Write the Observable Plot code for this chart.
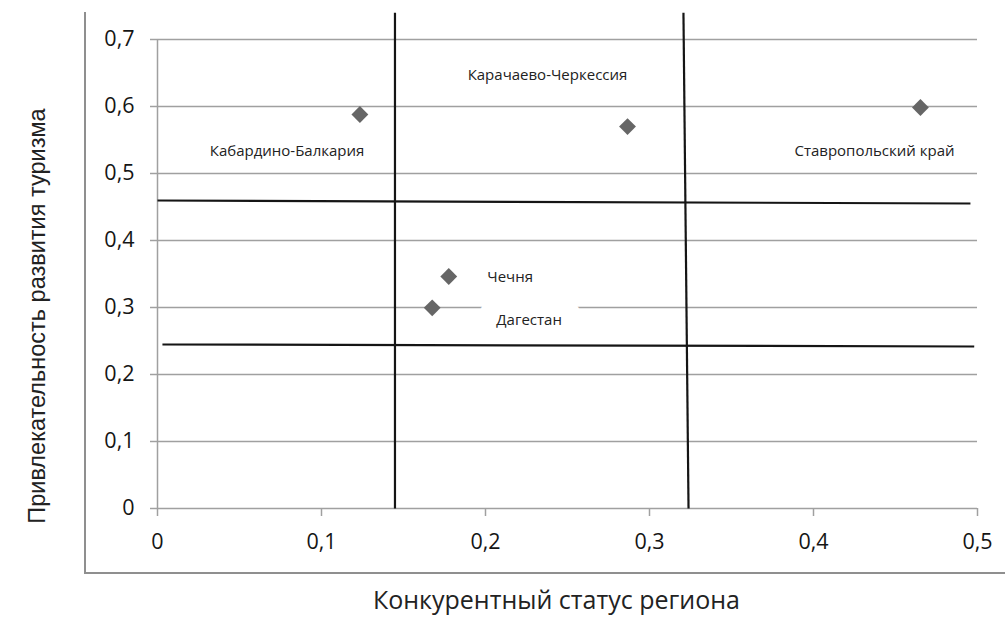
<!DOCTYPE html>
<html>
<head>
<meta charset="utf-8">
<script src="https://cdn.jsdelivr.net/npm/d3@7"></script>
<script src="https://cdn.jsdelivr.net/npm/@observablehq/plot@0.6"></script>
<style>
  html, body { margin: 0; padding: 0; background: #fff; }
  #wrap { position: relative; width: 1005px; height: 624px; overflow: hidden; }
  #border { position: absolute; left: 84px; top: 12px; width: 940px; height: 560px;
            border-left: 2px solid #8f8f8f; border-bottom: 2px solid #8f8f8f; }
  #chart { position: absolute; left: 0; top: 0; }
</style>
</head>
<body>
<div id="wrap"><div id="border"></div><div id="chart"></div></div>
<script>
// Data
const regions = ["Кабардино-Балкария", "Карачаево-Черкессия", "Ставропольский край", "Чечня", "Дагестан"];
const competitiveStatus = [0.1234, 0.2866, 0.4652, 0.1776, 0.1675];
const tourismAttractiveness = [0.588, 0.570, 0.5985, 0.3463, 0.2995];
const labelX = [0.079, 0.2378, 0.4372, 0.215, 0.2266];
const labelY = [0.534, 0.6463, 0.534, 0.345, 0.2806];

const xTicks = [0, 0.1, 0.2, 0.3, 0.4, 0.5];
const yTicks = [0, 0.1, 0.2, 0.3, 0.4, 0.5, 0.6, 0.7];

const xTitle = "Конкурентный статус региона";
const yTitle = "Привлекательность развития туризма";

// Quadrant divider lines (drawn by hand in the original, slightly tilted)
const dividerX1 = [0.1448, 0.3238];
const dividerX2 = [0.1448, 0.3207];
const dividerTop = 0.740;
const hDividerX1 = [0, 0.003];
const hDividerX2 = [0.4957, 0.498];
const hDividerY1 = [0.4597, 0.2448];
const hDividerY2 = [0.4552, 0.2418];

const points = regions.map((name, i) => ({
  name, x: competitiveStatus[i], y: tourismAttractiveness[i], lx: labelX[i], ly: labelY[i]
}));
const vLines = dividerX1.map((x1, i) => ({x1, x2: dividerX2[i], y1: 0, y2: dividerTop}));
const hLines = hDividerX1.map((x1, i) => ({x1, x2: hDividerX2[i], y1: hDividerY1[i], y2: hDividerY2[i]}));

const fmt = d => d === 0 ? "0" : String(d).replace(".", ",");
const grid = "#a0a0a0";

const chart = Plot.plot({
  width: 1005,
  height: 624,
  marginLeft: 157,
  marginRight: 28,
  marginTop: 39,
  marginBottom: 116,
  x: {domain: [0, 0.5]},
  y: {domain: [0, 0.7]},
  style: {fontFamily: "'Open Sans', sans-serif", fontSize: "21px", color: "#111", background: "transparent", overflow: "visible"},
  marks: [
    Plot.gridY(yTicks, {stroke: grid, strokeOpacity: 1, strokeWidth: 1.5}),
    Plot.axisY(yTicks, {tickSize: 7, tickPadding: 16, tickFormat: fmt, stroke: grid, strokeWidth: 1.5, fill: "#151515", fontSize: 21.5, fontWeight: 500, label: null}),
    Plot.axisX(xTicks, {tickSize: 8, tickPadding: 17, tickFormat: fmt, stroke: grid, strokeWidth: 1.5, fill: "#151515", fontSize: 21.5, fontWeight: 500, label: null}),
    Plot.ruleX([0], {y1: 0, y2: 0.7, stroke: grid, strokeWidth: 1.5}),
    // white box behind the Дагестан label (hides part of the gridline, as in the original)
    Plot.text(points.filter(d => d.name === "Дагестан"), {x: "lx", y: "ly", text: "name", fontSize: 15, fill: "white", stroke: "white", strokeWidth: 40, strokeLinejoin: "round"}),
    Plot.link(vLines, {x1: "x1", x2: "x2", y1: "y1", y2: "y2", stroke: "#151515", strokeWidth: 2.2}),
    Plot.link(hLines, {x1: "x1", x2: "x2", y1: "y1", y2: "y2", stroke: "#151515", strokeWidth: 2.2}),
    Plot.dot(points, {x: "x", y: "y", symbol: "diamond2", r: 7.6, fill: "#666", stroke: "none"}),
    Plot.text(points, {x: "lx", y: "ly", text: "name", fontSize: 15, fill: "#222", fontFamily: "'Open Sans', sans-serif"}),
    Plot.text([yTitle], {frameAnchor: "left", textAnchor: "middle", text: d => d, rotate: -90, dx: -120, dy: 42, fontSize: 23.5, fill: "#222", fontFamily: "'Liberation Sans', Arial, sans-serif"}),
    Plot.text([xTitle], {frameAnchor: "bottom", textAnchor: "middle", text: d => d, dx: -11, dy: 100, fontSize: 25, fill: "#222"})
  ]
});
document.getElementById("chart").appendChild(chart);
</script>
</body>
</html>
